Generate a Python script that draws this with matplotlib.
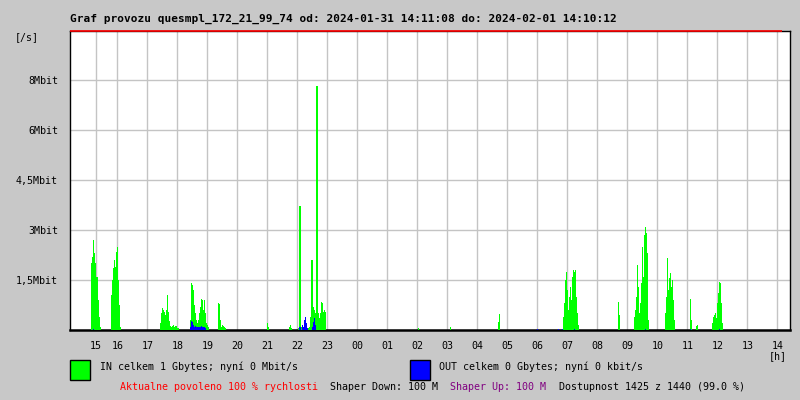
import pandas as pd
import numpy as np
import matplotlib
matplotlib.use("Agg")
import matplotlib.pyplot as plt
from matplotlib.patches import Rectangle

# --- data (Mbit/s, one sample per 2 minutes) ---------------------------------
T0 = pd.Timestamp("2024-01-31 00:00")
DATA_END = pd.Timestamp("2024-02-01 14:10:12")

in_1507 = [2.0, 2.2, 2.7, 2.3, 2.0, 1.6, 1.6, 0.9, 0.4, 0.1]
in_1547 = [1.05, 1.5, 1.85, 2.1, 1.9, 2.35, 2.5, 1.5, 0.75, 0.1]
in_1725 = [0.2, 0.5, 0.65, 0.6, 0.55, 0.45, 0.6, 1.05, 0.55, 0.27,
           0.12, 0.1, 0.12, 0.15, 0.1, 0.13, 0.12, 0.05, 0.05]
in_1825 = [0.3, 1.4, 1.35, 1.2, 0.75, 0.5, 0.3, 0.2, 0.3, 0.5,
           0.7, 0.93, 0.9, 0.6, 0.9, 0.5, 0.2, 0.15, 0.1]
in_1921 = [0.8, 0.78, 0.3, 0.1, 0.15, 0.12, 0.1, 0.05]
in_2059 = [0.2, 0.1]
in_2143 = [0.1, 0.15, 0.05]
in_2201 = [0.05, 3.72, 3.72, 0.1, 0.05, 0.1, 0.05, 0.05, 0.1, 0.05, 0.05,
           0.1, 0.4, 2.1, 2.1, 0.7, 0.6, 0.5, 7.32, 7.32, 0.5, 0.35, 0.5,
           0.85, 0.8, 0.55, 0.6, 0.55]
in_0201 = [0.05]
in_0305 = [0.1]
in_0441 = [0.25, 0.48]
in_0651 = [0.4, 0.8, 1.5, 1.75, 1.2, 0.6, 1.0, 1.3, 0.9, 1.6, 1.8, 1.75,
           1.8, 1.0, 0.5, 0.15]
in_0841 = [0.85, 0.45]
in_0913 = [0.4, 0.6, 1.0, 1.95, 1.3, 0.5, 0.8, 1.4, 2.5, 1.6, 2.85, 3.1,
           2.9, 2.3, 0.3]
in_1015 = [0.5, 1.0, 2.15, 1.2, 1.55, 1.7, 1.3, 1.5, 0.9, 0.3]
in_1105 = [0.93, 0.3]
in_1117 = [0.12, 0.15]
in_1149 = [0.2, 0.4, 0.45, 0.5, 0.35, 0.8, 1.1, 1.45, 1.4, 0.8, 0.2]

in_bursts = [
    ("2024-01-31 15:07", in_1507), ("2024-01-31 15:47", in_1547),
    ("2024-01-31 17:25", in_1725), ("2024-01-31 18:25", in_1825),
    ("2024-01-31 19:21", in_1921), ("2024-01-31 20:59", in_2059),
    ("2024-01-31 21:43", in_2143), ("2024-01-31 22:01", in_2201),
    ("2024-02-01 02:01", in_0201), ("2024-02-01 03:05", in_0305),
    ("2024-02-01 04:41", in_0441), ("2024-02-01 06:51", in_0651),
    ("2024-02-01 08:41", in_0841), ("2024-02-01 09:13", in_0913),
    ("2024-02-01 10:15", in_1015), ("2024-02-01 11:05", in_1105),
    ("2024-02-01 11:17", in_1117), ("2024-02-01 11:49", in_1149),
]

out_1511 = [0.04]
out_1825 = [0.1, 0.27, 0.25, 0.15, 0.1, 0.12, 0.1, 0.08, 0.1, 0.08,
            0.1, 0.12, 0.1, 0.08, 0.1, 0.05]
out_2203 = [0.1, 0.08, 0.0, 0.15, 0.1, 0.3, 0.4, 0.2, 0.05, 0.0,
            0.0, 0.0, 0.0, 0.1, 0.25, 0.35, 0.15]
out_0559 = [0.03]
out_0641 = [0.03]
out_0649 = [0.03]
out_0713 = [0.03]
out_0935 = [0.03]
out_1105 = [0.03]
out_1203 = [0.03]

out_bursts = [
    ("2024-01-31 15:11", out_1511), ("2024-01-31 18:25", out_1825),
    ("2024-01-31 22:03", out_2203), ("2024-02-01 05:59", out_0559),
    ("2024-02-01 06:41", out_0641), ("2024-02-01 06:49", out_0649),
    ("2024-02-01 07:13", out_0713), ("2024-02-01 09:35", out_0935),
    ("2024-02-01 11:05", out_1105), ("2024-02-01 12:03", out_1203),
]

tick_pos = [15.28] + list(range(16, 39))
tick_labels = ["15", "16", "17", "18", "19", "20", "21", "22", "23",
               "00", "01", "02", "03", "04", "05", "06", "07", "08",
               "09", "10", "11", "12", "13", "14"]
ytick_vals = [1.5, 3.0, 4.5, 6.0, 7.5]
ytick_labels = ["1,5Mbit", "3Mbit", "4,5Mbit", "6Mbit", "8Mbit"]


def to_hours(ts):
    return (ts - T0) / pd.Timedelta(hours=1)


def expand(bursts):
    xs, ys = [], []
    for start, vals in bursts:
        idx = pd.date_range(start, periods=len(vals), freq="2min")
        xs.extend(to_hours(idx))
        ys.extend(vals)
    return np.array(xs), np.array(ys)


in_x, in_y = expand(in_bursts)
out_x, out_y = expand(out_bursts)

# --- figure -----------------------------------------------------------------
BG = "#c8c8c8"
MONO = "DejaVu Sans Mono"
FS = 7.2

fig = plt.figure(figsize=(8, 4), dpi=100, facecolor=BG)
ax = fig.add_axes([70 / 800, 1 - 330 / 400, 720 / 800, 299 / 400])
ax.set_facecolor("white")

step = 1 / 30
ax.bar(in_x, in_y, width=step, align="edge", color="#00ff00", linewidth=0, zorder=3)
ax.bar(out_x, out_y, width=step, align="edge", color="#0000ff", linewidth=0, zorder=4)

ax.set_xlim(14.4233, 38.4233)
ax.set_ylim(0, 8.97)
ax.hlines(8.97, 14.4233, to_hours(DATA_END), color="#ff0000", lw=1.2,
          clip_on=False, zorder=6)

ax.set_xticks(tick_pos)
ax.set_xticklabels(tick_labels, fontsize=FS, family=MONO)
ax.set_yticks(ytick_vals)
ax.set_yticklabels(ytick_labels, fontsize=FS, family=MONO)
ax.tick_params(axis="both", length=0)
ax.tick_params(axis="y", pad=8.6)
ax.tick_params(axis="x", pad=8)
ax.grid(True, color="#c4c4c4", linewidth=1.0, zorder=1)
ax.set_axisbelow(True)

for s in ["left", "right", "top"]:
    ax.spines[s].set_linewidth(1.0)
ax.spines["bottom"].set_linewidth(1.8)


def ftxt(x, y, s, **kw):
    kw.setdefault("fontsize", FS)
    kw.setdefault("family", MONO)
    kw.setdefault("va", "center")
    fig.text(x / 800, 1 - y / 400, s, **kw)


ftxt(70, 19, "Graf provozu quesmpl_172_21_99_74 od: 2024-01-31 14:11:08 "
     "do: 2024-02-01 14:10:12", fontsize=8, fontweight="bold")
ftxt(15, 37, "[/s]")
ftxt(778, 356, "[h]", ha="center")

for x0, col in [(70, "#00ff00"), (410, "#0000ff")]:
    fig.add_artist(Rectangle((x0 / 800, 1 - 380 / 400), 20 / 800, 20 / 400,
                             transform=fig.transFigure, facecolor=col,
                             edgecolor="black", linewidth=1.0))

ftxt(100, 367, "IN celkem 1 Gbytes; nyní 0 Mbit/s")
ftxt(439, 367, "OUT celkem 0 Gbytes; nyní 0 kbit/s")
ftxt(120, 387, "Aktualne povoleno 100 % rychlosti", color="#ff0000")
ftxt(330, 387, "Shaper Down: 100 M")
ftxt(450, 387, "Shaper Up: 100 M", color="#800080")
ftxt(559, 387, "Dostupnost 1425 z 1440 (99.0 %)")

fig.savefig("out.png", dpi=100, facecolor=BG)
